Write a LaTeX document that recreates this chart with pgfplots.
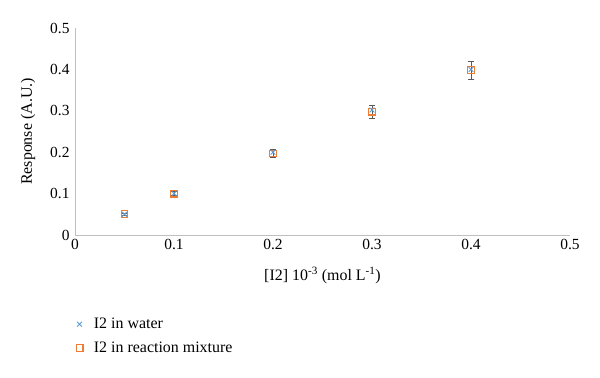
\documentclass[border=0pt]{standalone}
\usepackage{pgfplots}
\pgfplotsset{compat=1.18}
\usepackage{fontspec}
\setmainfont{Liberation Serif}
\definecolor{cblue}{HTML}{5B9BD5}
\definecolor{corange}{HTML}{ED7D31}
\definecolor{caxis}{HTML}{BFBFBF}
\begin{document}
\begin{tikzpicture}
\useasboundingbox (-75bp,-143bp) rectangle (525bp,235bp);
\begin{axis}[
  scale only axis,
  width=495bp, height=207bp,
  at={(0,0)}, anchor=south west,
  xmin=0, xmax=0.5, ymin=0, ymax=0.5,
  xtick={0,0.1,0.2,0.3,0.4,0.5},
  ytick={0,0.1,0.2,0.3,0.4,0.5},
  xticklabels={0,0.1,0.2,0.3,0.4,0.5},
  yticklabels={0,0.1,0.2,0.3,0.4,0.5},
  tick style={draw=none},
  axis x line*=bottom,
  axis y line*=left,
  axis line style={draw=caxis, line width=1pt, -},
  ticklabel style={font=\fontsize{15.5}{18}\selectfont},
  xticklabel style={yshift=-1pt},
  yticklabel style={xshift=-2pt},
  xlabel={[I2] 10\textsuperscript{-3} (mol L\textsuperscript{-1})},
  ylabel={Response (A.U.)},
  label style={font=\fontsize{16}{19}\selectfont},
  xlabel style={yshift=-10pt},
  ylabel style={yshift=8pt},
  legend style={at={(-2bp,-79bp)}, anchor=north west, draw=none, fill=none,
    font=\fontsize{16}{19}\selectfont, row sep=8pt, legend cell align=left},
  reverse legend,
  clip=false,
]
\addplot[only marks, mark=square, mark size=3.4pt, draw=corange, line width=1.1pt,
  error bars/.cd, y dir=both, y explicit, error bar style={draw=black!65, line width=0.9pt}, error mark options={rotate=90, mark size=3.5pt, draw=black!65, line width=0.9pt}]
  coordinates {
  (0.05,0.050) +- (0,0.003)
  (0.1,0.100) +- (0,0.004)
  (0.2,0.197) +- (0,0.009)
  (0.3,0.298) +- (0,0.016)
  (0.4,0.398) +- (0,0.022)
};
\addlegendentry{\hspace*{9pt}I2 in reaction mixture}
\addplot[only marks, mark=x, mark size=3.4pt, draw=cblue, line width=0.9pt]
  coordinates {
  (0.05,0.050)
  (0.1,0.100)
  (0.2,0.200)
  (0.3,0.302)
  (0.4,0.400)
};
\addlegendentry{\hspace*{9pt}I2 in water}
\end{axis}
\end{tikzpicture}
\end{document}
